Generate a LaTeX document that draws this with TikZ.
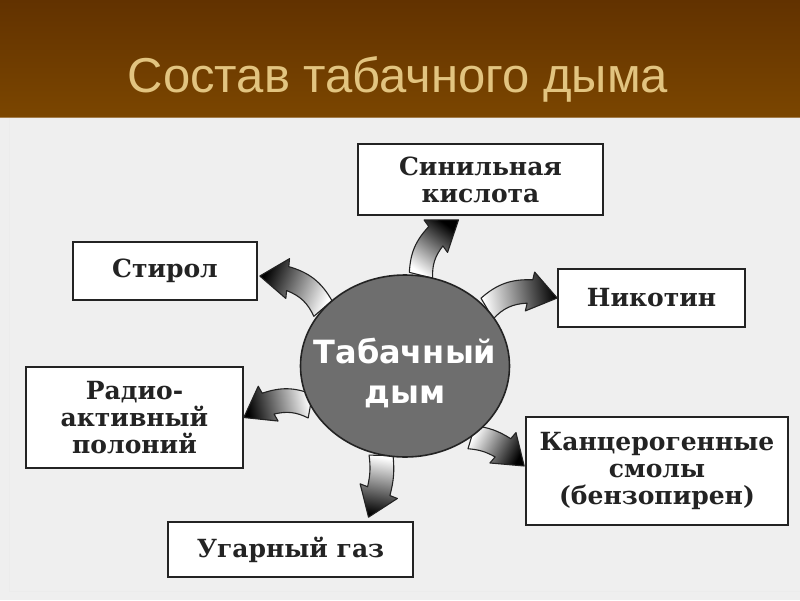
\documentclass[tikz,border=0pt]{standalone}
\usepackage{fontspec}
\setmainfont{DejaVu Serif}
\setsansfont{Liberation Sans}
\newfontfamily\smokefont{DejaVu Sans}
\usepackage{tikz}
\usetikzlibrary{shapes.geometric, calc, positioning, backgrounds}
\definecolor{headerdark}{RGB}{98, 50, 0}
\definecolor{headerlight}{RGB}{123, 70, 0}
\definecolor{titlesand}{RGB}{226, 196, 128}
\definecolor{panelgrey}{RGB}{239, 239, 239}
\definecolor{smokegrey}{RGB}{110, 110, 110}
\definecolor{inkline}{RGB}{35, 35, 35}
\tikzset{
  compbox/.style={draw=inkline, line width=1.6pt, fill=white, align=center, inner sep=0pt,
    font=\fontsize{25}{27}\selectfont\bfseries, text=inkline},
  smokeball/.style={ellipse, draw=inkline, line width=1.6pt, fill=smokegrey, inner xsep=-18pt, inner ysep=0pt,
    minimum width=209pt, minimum height=182pt, align=center, text=white, text height=80pt,
    font=\smokefont\bfseries\fontsize{32}{40}\selectfont},
  fumestroke/.style={draw=inkline, line width=1.1pt, line join=round}
}
% fat curved arrow: #1 start, #2 tip, #3 bend (positive = left), #4 shading angle
\newcommand{\fumearrow}[4]{%
  \pgfmathsetmacro\fumeturn{-(#3)}%
  \pgfmathsetmacro\fumeleft{90+(#3)}%
  \pgfmathsetmacro\fumeright{-90+(#3)}%
  \coordinate (fumebase) at ($(#2)!28pt!\fumeturn:(#1)$);
  \draw[fumestroke, bottom color=white, middle color=gray!55, top color=black, shading angle=#4]
    ($(#1)!12pt!\fumeleft:(#2)$) to[bend left=#3] ($(fumebase)!12pt!90:(#2)$)
    -- ($(fumebase)!20pt!90:(#2)$) -- (#2) -- ($(fumebase)!20pt!-90:(#2)$)
    -- ($(fumebase)!12pt!-90:(#2)$) to[bend right=#3] ($(#1)!12pt!\fumeright:(#2)$) -- cycle;
}

\begin{document}
\begin{tikzpicture}[x=1pt, y=-1pt]
    \useasboundingbox (0,0) rectangle (800,600);
    \begin{scope}[on background layer]
      \fill[panelgrey] (0,117) rectangle (800,600);
      \draw[gray!15, line width=1pt] (9,117) -- (9,591) -- (800,591);
    \end{scope}
    \shade[top color=headerdark, bottom color=headerlight] (0,0) rectangle (800,117);
    \draw[headerlight!70!white, line width=1pt] (0,117) -- (800,117);
    \node (title) [anchor=base, text=titlesand, font=\sffamily\fontsize{49}{49}\selectfont] at (398,92) {Состав табачного дыма};

    \node (smoke) [smokeball] at (405,366) {Табачный\\дым};

    \node (sin) [compbox, minimum width=245pt, minimum height=71pt] at (480.5,179.5) {Синильная\\кислота};
    \node (nik) [compbox, minimum width=187pt, minimum height=58pt] at (651.5,298) {Никотин};
    \node (kanc) [compbox, minimum width=262pt, minimum height=108pt] at (657,471) {Канцерогенные\\смолы\\(бензопирен)};
    \node (ugar) [compbox, minimum width=245pt, minimum height=55pt] at (290.5,549.5) {Угарный газ};
    \node (rad) [compbox, minimum width=217pt, minimum height=101pt] at (134.5,417.5) {Радио-\\активный\\полоний};
    \node (stir) [compbox, minimum width=184pt, minimum height=58pt] at (165,271) {Стирол};

    \coordinate (tsin) at ($(sin.south)+(-22,4)$);
    \coordinate (tkanc) at ($(kanc.west)+(-1,-5)$);
    \coordinate (tugar) at ($(ugar.north)+(78,-4)$);
    \coordinate (tstir) at ($(stir.east)+(2,5)$);

    \begin{scope}[on background layer]
      \fumearrow{smoke.80}{tsin}{20}{-36}
      \fumearrow{smoke.35}{nik.west}{22}{-82}
      \fumearrow{smoke.-47}{tkanc}{12}{-118}
      \fumearrow{smoke.-105}{tugar}{10}{170}
      \fumearrow{smoke.203}{rad.east}{-20}{102}
      \fumearrow{smoke.145}{tstir}{-22}{68}
    \end{scope}
\end{tikzpicture}
\end{document}
